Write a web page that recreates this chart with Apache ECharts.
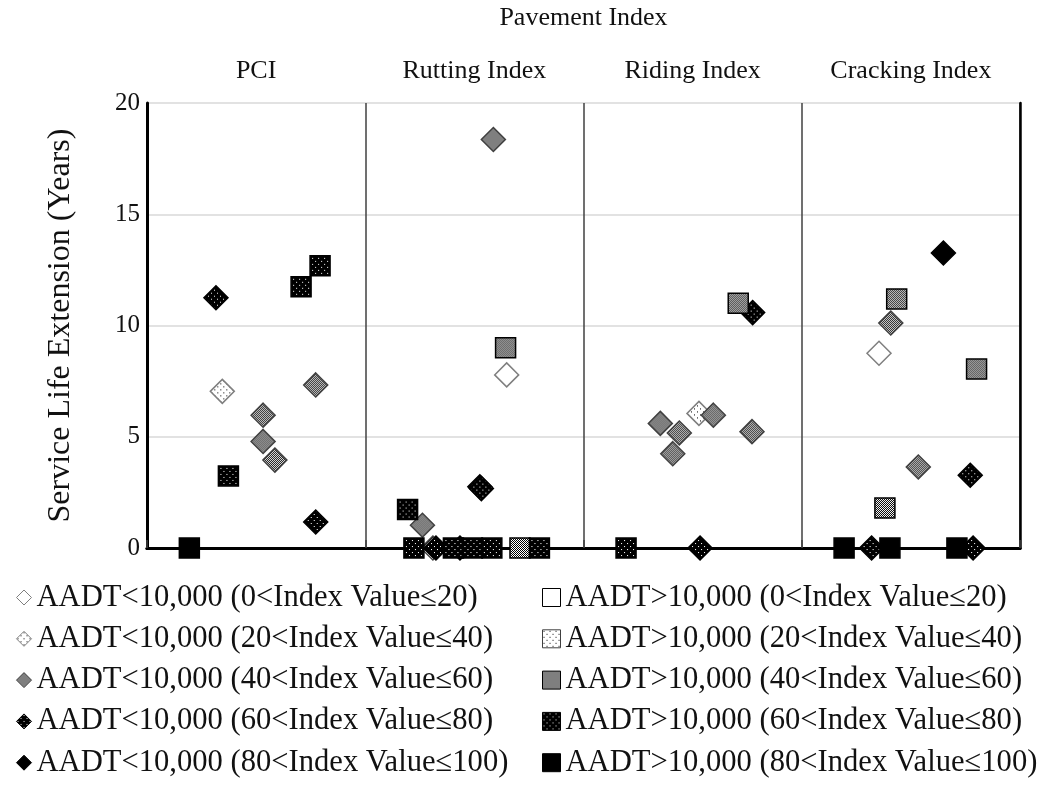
<!DOCTYPE html>
<html>
<head>
<meta charset="utf-8">
<script src="https://cdn.jsdelivr.net/npm/echarts@6/dist/echarts.min.js"></script>
<style>
  html, body { margin: 0; padding: 0; background: #fff; }
  #chart { width: 1051px; height: 790px; }
</style>
</head>
<body>
<div id="chart"></div>
<script>
// Panels along the horizontal axis (one per pavement index)
const panels = ['PCI', 'Rutting Index', 'Riding Index', 'Cracking Index'];
const yMin = 0, yMax = 20, yStep = 5;

// Each point: [panel index, position inside panel (0..1), service life extension in years]
const lowAadt0to20 = [[1, 0.648, 7.78], [3, 0.354, 8.75]];
const lowAadt20to40 = [[0, 0.345, 7.04], [2, 0.529, 6.05]];
const lowAadt40to60 = [
  [0, 0.773, 7.33], [0, 0.532, 5.97], [0, 0.532, 4.79], [0, 0.586, 3.95],
  [1, 0.587, 18.36], [1, 0.262, 1.02], [1, 0.310, 0],
  [2, 0.352, 5.60], [2, 0.439, 5.17], [2, 0.409, 4.24], [2, 0.595, 5.97], [2, 0.772, 5.23],
  [3, 0.408, 10.11], [3, 0.534, 3.64]
];
const lowAadt60to80 = [
  [0, 0.316, 11.25], [0, 0.773, 1.17],
  [1, 0.525, 2.75], [1, 0.532, 2.67], [1, 0.324, 0], [1, 0.434, 0],
  [2, 0.534, 0], [2, 0.775, 10.58],
  [3, 0.320, 0], [3, 0.785, 0], [3, 0.772, 3.27]
];
const lowAadt80to100 = [[3, 0.649, 13.26]];

const highAadt0to20 = [];
const highAadt20to40 = [];
const highAadt40to60 = [
  [1, 0.643, 9.00], [1, 0.709, 0],
  [2, 0.709, 11.00],
  [3, 0.435, 11.19], [3, 0.801, 8.04], [3, 0.381, 1.80]
];
const highAadt60to80 = [
  [0, 0.706, 11.74], [0, 0.793, 12.68], [0, 0.373, 3.24],
  [1, 0.194, 1.73], [1, 0.223, 0], [1, 0.404, 0], [1, 0.491, 0], [1, 0.580, 0], [1, 0.798, 0],
  [2, 0.195, 0]
];
const highAadt80to100 = [[0, 0.194, 0], [3, 0.194, 0], [3, 0.404, 0], [3, 0.711, 0]];

const FONT = "'Liberation Serif', 'Times New Roman', serif";
const DIAMOND_SIZE = 24;
const SQUARE_SIZE = 20;

// Small tiled fills used for the marker shading.
// Symbols are drawn from a 2x2 unit path and scaled up, so the tile is
// scaled down by the same factor to keep it at one screen pixel per texel.
function makeTile(size, bg, fg, dots) {
  const c = document.createElement('canvas');
  c.width = size; c.height = size;
  const g = c.getContext('2d');
  g.fillStyle = bg; g.fillRect(0, 0, size, size);
  g.fillStyle = fg;
  dots.forEach(([x, y]) => g.fillRect(x, y, 1, 1));
  return c;
}
function pattern(tile, scale) {
  return { image: tile, repeat: 'repeat', scaleX: scale, scaleY: scale };
}
const tileLightDots = makeTile(6, '#ffffff', '#000000', [[1, 1], [4, 4]]);
const tileChecker = makeTile(2, '#ffffff', '#000000', [[0, 0], [1, 1]]);
const tileDarkDots = makeTile(6, '#000000', '#ffffff', [[1, 1], [4, 4]]);

function fillFor(kind, scale) {
  if (kind === 'white') return '#ffffff';
  if (kind === 'black') return '#000000';
  if (kind === 'light') return pattern(tileLightDots, scale);
  if (kind === 'checker') return pattern(tileChecker, scale);
  return pattern(tileDarkDots, scale);
}

const seriesSpec = [
  { name: 'AADT<10,000 (0<Index Value≤20)', data: lowAadt0to20, symbol: 'diamond', fill: 'white', border: '#7f7f7f' },
  { name: 'AADT<10,000 (20<Index Value≤40)', data: lowAadt20to40, symbol: 'diamond', fill: 'light', border: '#7f7f7f' },
  { name: 'AADT<10,000 (40<Index Value≤60)', data: lowAadt40to60, symbol: 'diamond', fill: 'checker', border: '#404040' },
  { name: 'AADT<10,000 (60<Index Value≤80)', data: lowAadt60to80, symbol: 'diamond', fill: 'dark', border: '#000000' },
  { name: 'AADT<10,000 (80<Index Value≤100)', data: lowAadt80to100, symbol: 'diamond', fill: 'black', border: '#000000' },
  { name: 'AADT>10,000 (0<Index Value≤20)', data: highAadt0to20, symbol: 'rect', fill: 'white', border: '#000000' },
  { name: 'AADT>10,000 (20<Index Value≤40)', data: highAadt20to40, symbol: 'rect', fill: 'light', border: '#404040' },
  { name: 'AADT>10,000 (40<Index Value≤60)', data: highAadt40to60, symbol: 'rect', fill: 'checker', border: '#000000' },
  { name: 'AADT>10,000 (60<Index Value≤80)', data: highAadt60to80, symbol: 'rect', fill: 'dark', border: '#000000' },
  { name: 'AADT>10,000 (80<Index Value≤100)', data: highAadt80to100, symbol: 'rect', fill: 'black', border: '#000000' }
];

const series = seriesSpec.map(s => {
  const size = s.symbol === 'diamond' ? DIAMOND_SIZE : SQUARE_SIZE;
  return {
    name: s.name,
    type: 'scatter',
    xAxisIndex: 0,
    yAxisIndex: 0,
    clip: false,
    symbol: s.symbol,
    symbolSize: size,
    itemStyle: { color: fillFor(s.fill, 2 / size), borderColor: s.border, borderWidth: 1.5, opacity: 1 },
    emphasis: { disabled: true },
    data: s.data.map(d => [d[0] + d[1], d[2]])
  };
});

// Legend icons are drawn at their real size, so their fills are not rescaled
function legendItems(specs) {
  return specs.map(s => ({
    name: s.name,
    icon: s.symbol,
    itemStyle: { color: fillFor(s.fill, 1), borderColor: s.border, borderWidth: 1 }
  }));
}

const legendText = { fontFamily: FONT, fontSize: 30.6, lineHeight: 30, color: '#111' };

const chart = echarts.init(document.getElementById('chart'), null, { renderer: 'canvas' });
chart.setOption({
  animation: false,
  backgroundColor: '#ffffff',
  grid: { left: 147, right: 31, top: 94, bottom: 242 },
  xAxis: [
    {
      type: 'value', position: 'bottom', min: 0, max: panels.length, interval: 1,
      axisLine: { show: true, onZero: false, lineStyle: { color: '#000', width: 3 } },
      axisTick: { show: false },
      axisLabel: { show: false },
      splitLine: { show: true, lineStyle: { color: '#404040', width: 1.5 } }
    },
    {
      type: 'category', position: 'top', data: panels, boundaryGap: true,
      axisLine: { show: true, lineStyle: { color: '#000', width: 3 } },
      axisTick: { show: true, length: 8, lineStyle: { color: '#404040', width: 1.5 } },
      axisLabel: { fontFamily: FONT, fontSize: 26, color: '#111', margin: 19 },
      splitLine: { show: false },
      name: 'Pavement Index', nameLocation: 'middle', nameGap: 72,
      nameTextStyle: { fontFamily: FONT, fontSize: 26, color: '#111' }
    }
  ],
  yAxis: [
    {
      type: 'value', min: yMin, max: yMax, interval: yStep,
      axisLine: { show: true, lineStyle: { color: '#000', width: 3 } },
      axisTick: { show: false },
      axisLabel: { fontFamily: FONT, fontSize: 25, color: '#111', margin: 7 },
      splitLine: { show: true, lineStyle: { color: '#d9d9d9', width: 1.5 } },
      name: 'Service Life Extension (Years)', nameLocation: 'middle', nameGap: 70, nameRotate: 90,
      nameTextStyle: { fontFamily: FONT, fontSize: 32, color: '#111' }
    },
    {
      type: 'value', position: 'right', min: yMin, max: yMax, interval: yStep,
      axisLine: { show: true, lineStyle: { color: '#000', width: 2.5 } },
      axisTick: { show: false }, axisLabel: { show: false }, splitLine: { show: false }
    }
  ],
  legend: [
    {
      data: legendItems(seriesSpec.slice(0, 5)),
      orient: 'vertical', left: 16, top: 582, padding: 0, itemGap: 10.3,
      itemWidth: 15, itemHeight: 15, selectedMode: false,
      textStyle: legendText
    },
    {
      data: legendItems(seriesSpec.slice(5)),
      orient: 'vertical', left: 542, top: 582, padding: 0, itemGap: 10.3,
      itemWidth: 18, itemHeight: 18, selectedMode: false,
      textStyle: legendText
    }
  ],
  series: series
});
</script>
</body>
</html>
